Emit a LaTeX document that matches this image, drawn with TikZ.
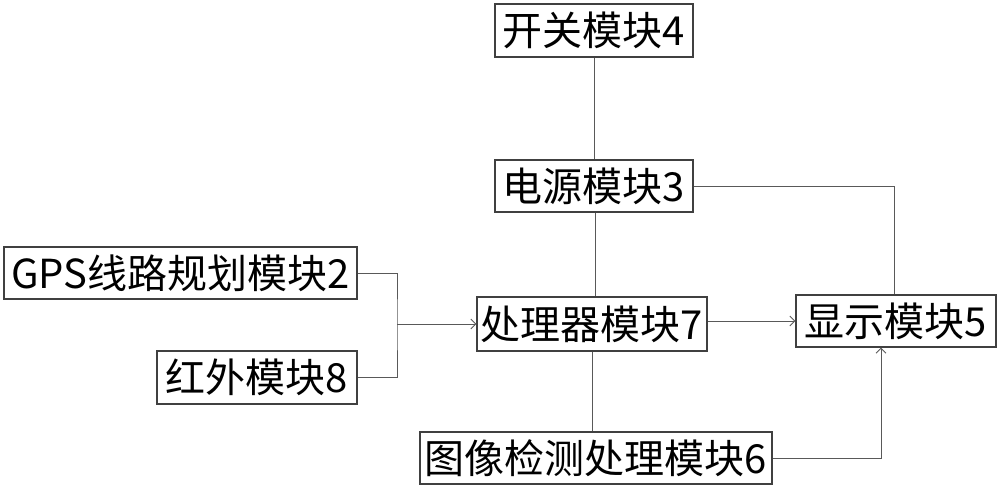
\documentclass[tikz,border=0pt]{standalone}
\usepackage{fontspec}
\setmainfont{Noto Sans CJK SC}
\usetikzlibrary{arrows.meta}
\begin{document}
\begin{tikzpicture}[x=1pt,y=-1pt,
  box/.style={draw=black!75,line width=1.1pt,inner sep=0pt,font=\fontsize{40}{44}\selectfont,text=black},
  conn/.style={draw=black!65,line width=0.9pt},
  arr/.style={conn,-{Straight Barb[length=5pt,width=10pt]}}]
\useasboundingbox (0,0) rectangle (1000,490);
\node[box,minimum width=198,minimum height=53] (sw) at (594,30.5) {开关模块4};
\node[box,minimum width=198,minimum height=52] (pw) at (594,186) {电源模块3};
\node[box,minimum width=353,minimum height=52] (gps) at (180.5,273) {GPS线路规划模块2};
\node[box,minimum width=200,minimum height=53] (ir) at (257,377.5) {红外模块8};
\node[box,minimum width=230,minimum height=54] (cpu) at (592,324) {处理器模块7};
\node[box,minimum width=200,minimum height=52] (disp) at (896,321) {显示模块5};
\node[box,minimum width=352,minimum height=52] (img) at (596,458) {图像检测处理模块6};
\coordinate (j) at (397,324);
\draw[conn] (sw.south) -- (pw.north);
\draw[conn] (pw.east) -| ([xshift=-2]disp.north);
\draw[conn] ([xshift=1]pw.south) -- ([xshift=1]pw.south |- cpu.north);
\draw[conn] (gps.east) -| (j) |- (ir.east);
\draw[arr] (j) -- (cpu.west);
\draw[arr] (cpu.east |- disp.west) -- (disp.west);
\draw[conn] (cpu.south) -- (cpu.south |- img.north);
\draw[arr] (img.east) -| ([xshift=-15]disp.south);
\end{tikzpicture}
\end{document}
